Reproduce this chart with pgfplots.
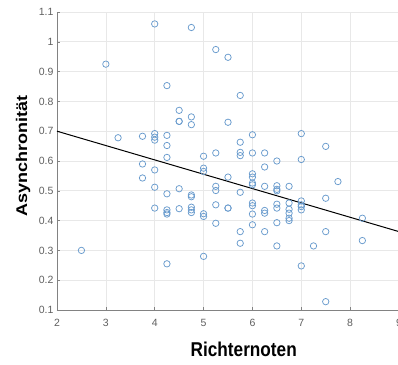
\documentclass[border=0pt]{standalone}
\usepackage{pgfplots}
\pgfplotsset{compat=1.18}
\usepackage{fontspec}
\setmainfont{Liberation Sans}
\definecolor{mk}{RGB}{105,155,205}
\definecolor{gridc}{RGB}{232,232,232}
\definecolor{axc}{RGB}{130,130,130}
\definecolor{tlc}{RGB}{95,95,95}
\begin{document}
\begin{tikzpicture}
\begin{axis}[
  scale only axis, width=342pt, height=298pt,
  xmin=2, xmax=9, ymin=0.1, ymax=1.1,
  axis lines*=left, axis line style={axc, line width=0.6pt},
  xtick={2,3,4,5,6,7,8,9}, xticklabels={2,3,4,5,6,7,8,9},
  ytick={0.1,0.2,0.3,0.4,0.5,0.6,0.7,0.8,0.9,1,1.1},
  yticklabels={0.1,0.2,0.3,0.4,0.5,0.6,0.7,0.8,0.9,1,1.1},
  tick align=inside, major tick length=3pt,
  tick style={axc, line width=0.5pt},
  grid=major, major grid style={gridc, line width=0.7pt},
  ticklabel style={font=\fontsize{10.5}{12}\selectfont, text=tlc},
  xticklabel style={anchor=center, yshift=-13pt},
  xlabel={\scalebox{0.86}[1]{\fontsize{20}{24}\selectfont\bfseries Richternoten}},
  ylabel={\scalebox{1}[0.86]{\fontsize{18}{22}\selectfont\bfseries Asynchronität}},
  every axis x label/.style={at={(axis description cs:0.546,-0.131)}, anchor=center},
  every axis y label/.style={at={(axis description cs:-0.099,0.517)}, anchor=center, rotate=90},
]
\addplot[only marks, mark=o, mark size=3.2pt, mark options={mk, line width=0.75pt}] coordinates {
(2.5,0.30)
(3,0.925)
(3.25,0.678)
(3.75,0.683) (3.75,0.59) (3.75,0.543)
(4,1.06) (4,0.692) (4,0.68) (4,0.67) (4,0.57) (4,0.512) (4,0.442)
(4.25,0.853) (4.25,0.686) (4.25,0.652) (4.25,0.612) (4.25,0.49) (4.25,0.436) (4.25,0.427) (4.25,0.422) (4.25,0.255)
(4.5,0.77) (4.5,0.733) (4.5,0.733) (4.5,0.507) (4.5,0.44)
(4.75,1.048) (4.75,0.748) (4.75,0.722) (4.75,0.486) (4.75,0.48) (4.75,0.445) (4.75,0.436) (4.75,0.427)
(5,0.616) (5,0.576) (5,0.565) (5,0.423) (5,0.414) (5,0.28)
(5.25,0.974) (5.25,0.627) (5.25,0.515) (5.25,0.501) (5.25,0.453) (5.25,0.391)
(5.5,0.948) (5.5,0.73) (5.5,0.546) (5.5,0.442) (5.5,0.442)
(5.75,0.82) (5.75,0.663) (5.75,0.629) (5.75,0.618) (5.75,0.495) (5.75,0.363) (5.75,0.324)
(6,0.688) (6,0.627) (6,0.557) (6,0.546) (6,0.526) (6,0.52) (6,0.459) (6,0.45) (6,0.422) (6,0.386)
(6.25,0.627) (6.25,0.58) (6.25,0.515) (6.25,0.434) (6.25,0.425) (6.25,0.363)
(6.5,0.60) (6.5,0.517) (6.5,0.505) (6.5,0.50) (6.5,0.455) (6.5,0.442) (6.5,0.393) (6.5,0.315)
(6.75,0.515) (6.75,0.459) (6.75,0.438) (6.75,0.425) (6.75,0.408) (6.75,0.40)
(7,0.692) (7,0.605) (7,0.466) (7,0.453) (7,0.447) (7,0.436) (7,0.248)
(7.25,0.315)
(7.5,0.649) (7.5,0.475) (7.5,0.363) (7.5,0.128)
(7.75,0.531)
(8.25,0.408) (8.25,0.333)
};
\addplot[black, line width=1pt] coordinates {(2,0.70) (9,0.363)};
\end{axis}
\pgfresetboundingbox
\path[use as bounding box] (-57pt,-54pt) rectangle (341pt,310pt);
\end{tikzpicture}
\end{document}
